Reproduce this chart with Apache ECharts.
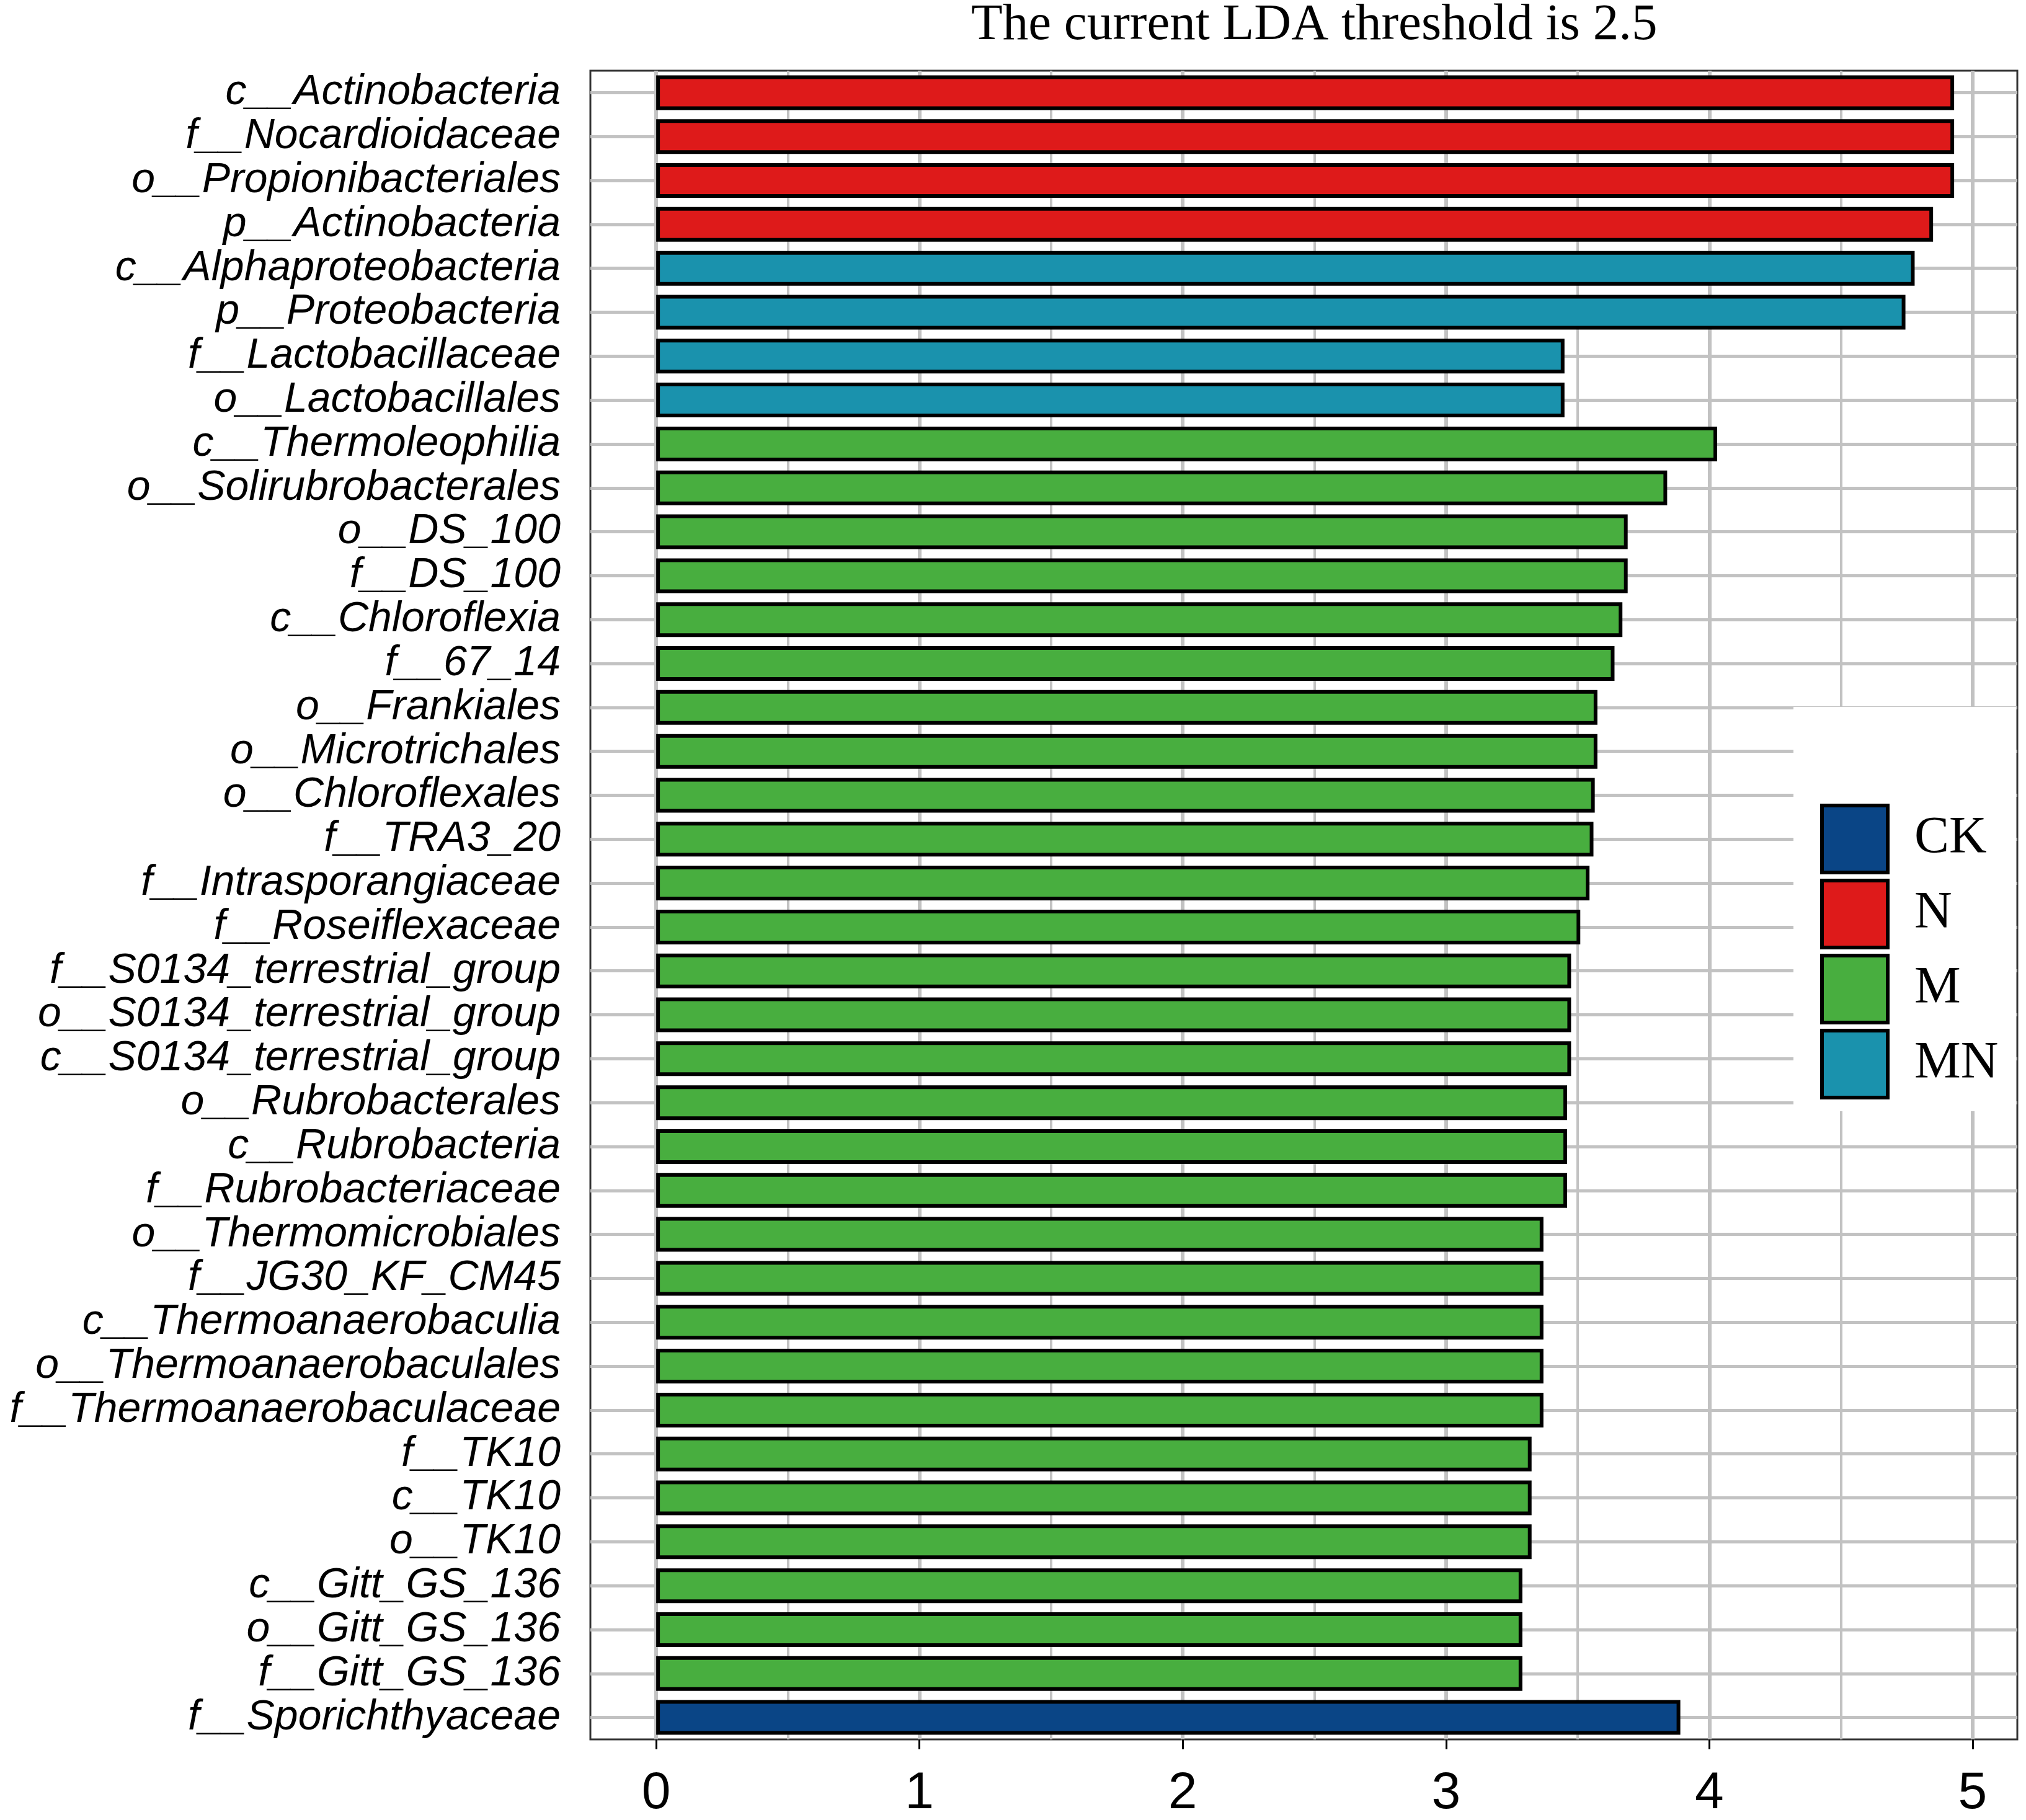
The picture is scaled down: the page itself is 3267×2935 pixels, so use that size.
<!DOCTYPE html>
<html>
<head>
<meta charset="utf-8">
<script src="https://cdn.jsdelivr.net/npm/echarts@6/dist/echarts.min.js"></script>
<style>
  html, body { margin: 0; padding: 0; background: #fff; }
  #chart { width: 3267px; height: 2935px; }
</style>
</head>
<body>
<div id="chart"></div>
<script>
// taxa, top to bottom
const categories = [
    'c__Actinobacteria', 'f__Nocardioidaceae', 'o__Propionibacteriales', 'p__Actinobacteria',
    'c__Alphaproteobacteria', 'p__Proteobacteria', 'f__Lactobacillaceae', 'o__Lactobacillales',
    'c__Thermoleophilia', 'o__Solirubrobacterales', 'o__DS_100', 'f__DS_100',
    'c__Chloroflexia', 'f__67_14', 'o__Frankiales', 'o__Microtrichales',
    'o__Chloroflexales', 'f__TRA3_20', 'f__Intrasporangiaceae', 'f__Roseiflexaceae',
    'f__S0134_terrestrial_group', 'o__S0134_terrestrial_group', 'c__S0134_terrestrial_group',
    'o__Rubrobacterales', 'c__Rubrobacteria', 'f__Rubrobacteriaceae',
    'o__Thermomicrobiales', 'f__JG30_KF_CM45', 'c__Thermoanaerobaculia',
    'o__Thermoanaerobaculales', 'f__Thermoanaerobaculaceae',
    'f__TK10', 'c__TK10', 'o__TK10',
    'c__Gitt_GS_136', 'o__Gitt_GS_136', 'f__Gitt_GS_136',
    'f__Sporichthyaceae'
];
const ldaScores = [
    4.93, 4.93, 4.93, 4.85,
    4.78, 4.745, 3.45, 3.45,
    4.03, 3.84, 3.69, 3.69,
    3.67, 3.64, 3.575, 3.575,
    3.565, 3.56, 3.545, 3.51,
    3.475, 3.475, 3.475,
    3.46, 3.46, 3.46,
    3.37, 3.37, 3.37,
    3.37, 3.37,
    3.325, 3.325, 3.325,
    3.29, 3.29, 3.29,
    3.89
];
const groupOf = [
    'N', 'N', 'N', 'N',
    'MN', 'MN', 'MN', 'MN',
    'M', 'M', 'M', 'M', 'M', 'M', 'M', 'M', 'M', 'M', 'M', 'M',
    'M', 'M', 'M', 'M', 'M', 'M', 'M', 'M', 'M', 'M', 'M',
    'M', 'M', 'M', 'M', 'M', 'M',
    'CK'
];
const groups = ['CK', 'N', 'M', 'MN'];
const groupColors = ['#0a4586', '#de1a1a', '#48ae3f', '#1a92ad'];
const xTicks = [0, 1, 2, 3, 4, 5];
const xGridMinor = [0.5, 1.5, 2.5, 3.5, 4.5];

const GRID_COLOR = '#c2c2c2';

const chart = echarts.init(document.getElementById('chart'), null, { renderer: 'canvas' });

const barSeries = groups.map((g, gi) => ({
    name: g,
    type: 'bar',
    stack: 'lda',
    barWidth: 56,
    z: 3,
    itemStyle: { color: groupColors[gi], borderColor: '#000', borderWidth: 6 },
    data: ldaScores.map((v, i) => (groupOf[i] === g ? v : '-')),
}));

// grid lines drawn behind the bars
const gridSeries = {
    name: 'grid',
    type: 'line',
    data: [],
    z: 1,
    silent: true,
    markLine: {
        silent: true,
        z: 1,
        symbol: ['none', 'none'],
        label: { show: false },
        animation: false,
        data: [
            ...categories.map(c => ({ yAxis: c, lineStyle: { color: GRID_COLOR, width: 5, type: 'solid' } })),
            ...xTicks.map(v => ({ xAxis: v, lineStyle: { color: GRID_COLOR, width: 6, type: 'solid' } })),
            ...xGridMinor.map(v => ({ xAxis: v, lineStyle: { color: GRID_COLOR, width: 4, type: 'solid' } })),
        ],
    },
};

chart.setOption({
    animation: false,
    backgroundColor: '#fff',
    title: {
        text: 'The current LDA threshold is 2.5',
        left: 1566,
        top: 0,
        padding: 0,
        textStyle: { fontFamily: 'Liberation Serif', fontSize: 83, fontWeight: 'normal', color: '#000' },
    },
    // white panel behind the legend, stops at the inner edge of the plot border
    graphic: [{
        type: 'rect',
        silent: true,
        z: 2,
        shape: { x: 2892, y: 1140, width: 359, height: 652 },
        style: { fill: '#fff' },
    }],
    legend: {
        data: groups,
        orient: 'vertical',
        left: 2935,
        top: 1296,
        padding: 0,
        itemWidth: 106,
        itemHeight: 108,
        itemGap: 7,
        icon: 'rect',
        selectedMode: false,
        z: 4,
        itemStyle: { borderColor: '#000', borderWidth: 6 },
        textStyle: { fontFamily: 'Liberation Serif', fontSize: 84, color: '#000', padding: [0, 0, 0, 38] },
    },
    grid: {
        left: 952,
        top: 114,
        width: 2301,
        height: 2702,
        show: true,
        borderColor: '#333',
        borderWidth: 3,
        containLabel: false,
    },
    xAxis: {
        type: 'value',
        min: -0.25,
        max: 5.17,
        axisLine: { show: false },
        splitLine: { show: false },
        axisTick: { show: true, customValues: xTicks, length: 16, lineStyle: { color: '#000', width: 3 } },
        axisLabel: {
            customValues: xTicks,
            margin: 46,
            fontFamily: 'Liberation Sans',
            fontSize: 84,
            color: '#000',
        },
    },
    yAxis: {
        type: 'category',
        inverse: true,
        data: categories,
        axisLine: { show: false },
        splitLine: { show: false },
        axisTick: { show: true, alignWithLabel: true, interval: 0, length: 18, lineStyle: { color: '#000', width: 3 } },
        axisLabel: {
            interval: 0,
            margin: 48,
            fontFamily: 'Liberation Sans',
            fontStyle: 'italic',
            fontSize: 68,
            color: '#000',
        },
    },
    series: [gridSeries, ...barSeries],
});

window.addEventListener('resize', () => chart.resize());
</script>
</body>
</html>
